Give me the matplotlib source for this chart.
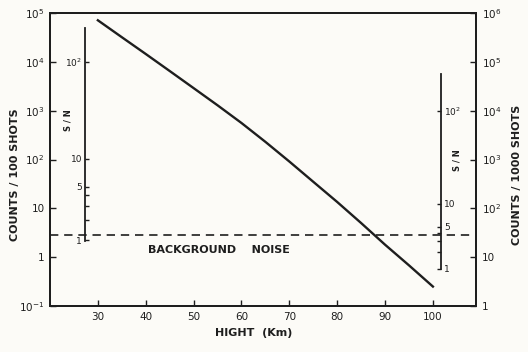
import numpy as np
import matplotlib
matplotlib.use('Agg')
from matplotlib import pyplot as plt
from matplotlib import ticker

plt.rcParams['font.family'] = ['DejaVu Sans']
plt.rcParams['mathtext.default'] = 'regular'

# signal counts per 100 shots vs height
height = [30, 35, 40, 45, 50, 55, 60, 65, 70, 75, 80, 85, 90, 95, 100]
counts = [71000, 32000, 14500, 6500, 2900, 1290, 560, 230, 91, 35, 13.5, 5.0, 1.8, 0.68, 0.25]

background = 2.8          # counts / 100 shots
background_1000 = 28      # counts / 1000 shots

x_ticks = [30, 40, 50, 60, 70, 80, 90, 100]
left_ticks = [1e-1, 1, 10, 1e2, 1e3, 1e4, 1e5]
left_labels = ['$10^{-1}$', '1', '10', '$10^2$', '$10^3$', '$10^4$', '$10^5$']
right_ticks = [1, 10, 1e2, 1e3, 1e4, 1e5, 1e6]
right_labels = ['1', '10', '$10^2$', '$10^3$', '$10^4$', '$10^5$', '$10^6$']
sn_ticks = [1, 5, 10, 100]
sn_labels = ['1', '5', '10', '$10^2$']
sn_minor = [2, 3, 4]

ink = '#1e1e1e'
paper = '#fcfbf7'

fig = plt.figure(figsize=(5.28, 3.52), dpi=100, facecolor=paper)
ax = fig.add_axes([0.0947, 0.1307, 0.8068, 0.8323], facecolor=paper)

ax.plot(height, counts, color=ink, lw=1.7)
ax.axhline(background, color=ink, lw=1.2, ls=(0, (5, 3.5)))

ax.set_yscale('log')
ax.set_xlim(20, 109)
ax.set_ylim(1e-1, 1e5)
ax.set_xticks(x_ticks)
ax.set_yticks(left_ticks, labels=left_labels)
ax.yaxis.set_minor_locator(ticker.NullLocator())
ax.tick_params(direction='in', length=4, width=1, colors=ink, labelsize=7.5, pad=4)
for s in ax.spines.values():
    s.set_linewidth(1.4)
    s.set_color(ink)

ax.set_xlabel('HIGHT  (Km)', fontsize=8, fontweight='bold', color=ink)
ax.xaxis.set_label_coords(0.477, -0.075)
ax.set_ylabel('COUNTS / 100 SHOTS', fontsize=8, fontweight='bold', color=ink)
ax.yaxis.set_label_coords(-0.07, 0.447)

ax.text(40.4, 1.4, 'BACKGROUND    NOISE', fontsize=8, fontweight='bold',
        color=ink, va='center', ha='left')

# right axis: counts per 1000 shots
ax2 = ax.twinx()
ax2.set_yscale('log')
ax2.set_ylim(1, 1e6)
ax2.set_yticks(right_ticks, labels=right_labels)
ax2.yaxis.set_minor_locator(ticker.NullLocator())
ax2.tick_params(direction='in', length=4, width=1, colors=ink, labelsize=7.5, pad=4)
ax2.set_ylabel('COUNTS / 1000 SHOTS', fontsize=8, fontweight='bold', color=ink)
ax2.yaxis.set_label_coords(1.085, 0.447)
for s in ax2.spines.values():
    s.set_linewidth(1.4)
    s.set_color(ink)


# S/N scales: S/N = S / sqrt(S + B)
def make_sn(b):
    def fwd(s):
        s = np.asarray(s, dtype=float)
        return s / np.sqrt(np.abs(s) + b)

    def inv(n):
        n = np.asarray(n, dtype=float)
        return (n ** 2 + np.sqrt(n ** 4 + 4 * n ** 2 * b)) / 2
    return fwd, inv


sn_left = ax.secondary_yaxis(0.082, functions=make_sn(background))
sn_right = ax2.secondary_yaxis(0.918, functions=make_sn(background_1000))
for sec, side, top in [(sn_left, 'left', 220), (sn_right, 'right', 240)]:
    sec.set_yticks(sn_ticks, labels=sn_labels)
    sec.set_yticks(sn_minor, minor=True)
    sec.tick_params(which='both', direction='in', length=3, width=1,
                    colors=ink, labelsize=6.5, pad=2)
    sec.spines[side].set_bounds(0.97, top)
    sec.spines[side].set_linewidth(1.3)
    sec.spines[side].set_color(ink)

ax.text(0.042, 0.635, 'S / N', transform=ax.transAxes, rotation=90,
        fontsize=6, fontweight='bold', color=ink, ha='center', va='center')
ax.text(0.955, 0.498, 'S / N', transform=ax.transAxes, rotation=90,
        fontsize=6, fontweight='bold', color=ink, ha='center', va='center')

plt.savefig('out.png', dpi=100, facecolor=paper)
